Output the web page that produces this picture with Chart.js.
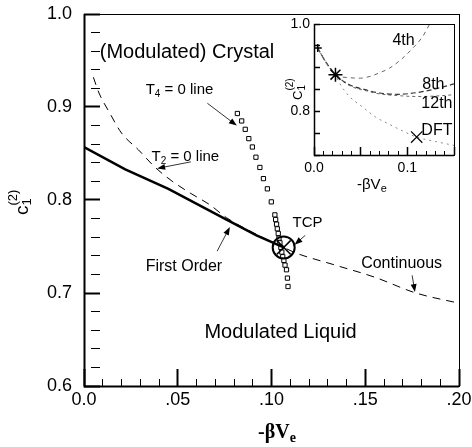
<!DOCTYPE html>
<html>
<head>
<meta charset="utf-8">
<script src="https://cdn.jsdelivr.net/npm/chart.js@4.4.0/dist/chart.umd.min.js"></script>
<style>
    body { margin: 0; background: #ffffff; }
    #wrap { position: relative; width: 472px; height: 447px; }
    #mainChart { position: absolute; left: 0; top: 0; }
    #insetChart { position: absolute; left: 250px; top: 8px; }
</style>
</head>
<body>
<div id="wrap">
    <canvas id="mainChart" width="472" height="447"></canvas>
    <canvas id="insetChart" width="215" height="190"></canvas>
</div>
<script>
// ---- main panel data ----
const firstOrderX = [0.0, 0.022, 0.045, 0.076, 0.092, 0.1065];
const firstOrderY = [0.857, 0.833, 0.812, 0.779, 0.762, 0.749];

const t2LineX = [0.005, 0.008, 0.0136, 0.020, 0.029, 0.038, 0.0465, 0.057, 0.067, 0.076, 0.092, 0.1065, 0.113, 0.134, 0.155, 0.177, 0.200];
const t2LineY = [0.932, 0.915, 0.894, 0.872, 0.854, 0.835, 0.821, 0.807, 0.795, 0.781, 0.763, 0.749, 0.743, 0.730, 0.717, 0.700, 0.689];

const t4LineX = [0.0818, 0.0841, 0.0860, 0.0879, 0.0898, 0.0917, 0.0938, 0.0957, 0.0978, 0.0999, 0.1018, 0.1022, 0.1027, 0.1031, 0.1036, 0.1040, 0.1045, 0.1050, 0.1055, 0.1060, 0.1066, 0.1072, 0.1080, 0.1085, 0.1088];
const t4LineY = [0.893, 0.885, 0.876, 0.866, 0.857, 0.846, 0.835, 0.823, 0.812, 0.798, 0.784, 0.779, 0.774, 0.769, 0.764, 0.759, 0.754, 0.749, 0.744, 0.739, 0.735, 0.730, 0.725, 0.716, 0.707];

const tcpX = [0.1065];
const tcpY = [0.749];

const mainXTicks = ['0.0', '.05', '.10', '.15', '.20'];
const mainYTicks = ['0.6', '0.7', '0.8', '0.9', '1.0'];

// ---- inset data ----
const order4X = [0.004, 0.012, 0.023, 0.038, 0.050, 0.060, 0.070, 0.081, 0.094, 0.106, 0.116, 0.124];
const order4Y = [0.945, 0.915, 0.884, 0.877, 0.876, 0.880, 0.888, 0.899, 0.920, 0.945, 0.970, 1.000];

const order8X = [0.004, 0.012, 0.023, 0.038, 0.056, 0.070, 0.090, 0.116, 0.147, 0.150];
const order8Y = [0.945, 0.915, 0.884, 0.861, 0.849, 0.842, 0.839, 0.845, 0.861, 0.863];

const order12X = [0.004, 0.012, 0.023, 0.038, 0.056, 0.070, 0.090, 0.110, 0.130, 0.150];
const order12Y = [0.945, 0.915, 0.884, 0.859, 0.847, 0.840, 0.836, 0.834, 0.835, 0.838];

const dftX = [0.004, 0.012, 0.023, 0.027, 0.038, 0.052, 0.066, 0.081, 0.095, 0.110, 0.130, 0.150];
const dftY = [0.945, 0.915, 0.884, 0.866, 0.834, 0.810, 0.787, 0.770, 0.755, 0.741, 0.731, 0.722];

const starX = [0.023], starY = [0.884];
const dftMarkX = [0.110], dftMarkY = [0.741];
const startX = [0.004], startY = [0.945];

const SANS = '"Liberation Sans", Arial, sans-serif';
const SERIF = '"Liberation Serif", "Times New Roman", serif';

function pts(xs, ys) {
    return xs.map(function (x, i) { return { x: x, y: ys[i] }; });
}

function isMultiple(v, step) {
    const q = v / step;
    return Math.abs(q - Math.round(q)) < 1e-6;
}

// inward tick marks drawn by Chart.js itself: negative tickLength,
// minor ticks shortened with a dash pattern
function inwardGrid(majorStep, majorLen, minorLen, majorWidth) {
    return {
        display: true,
        drawOnChartArea: false,
        drawTicks: true,
        tickLength: -majorLen,
        tickColor: '#000',
        tickWidth: function (c) {
            return c.tick && isMultiple(c.tick.value, majorStep) ? majorWidth : 1;
        },
        tickBorderDash: function (c) {
            return c.tick && isMultiple(c.tick.value, majorStep) ? [] : [minorLen, 60];
        }
    };
}

// text made of pieces: [text, size, dy, stay]
function drawParts(ctx, parts, x, y, family, weight) {
    parts.forEach(function (p) {
        ctx.font = weight + ' ' + p[1] + 'px ' + family;
        ctx.fillText(p[0], x, y + p[2]);
        if (!p[3]) x += ctx.measureText(p[0]).width;
    });
}

function arrow(ctx, x1, y1, x2, y2) {
    const ang = Math.atan2(y2 - y1, x2 - x1);
    ctx.beginPath();
    ctx.moveTo(x1, y1);
    ctx.lineTo(x2 - 6 * Math.cos(ang), y2 - 6 * Math.sin(ang));
    ctx.stroke();
    ctx.beginPath();
    ctx.moveTo(x2, y2);
    ctx.lineTo(x2 - 8 * Math.cos(ang) + 3 * Math.sin(ang), y2 - 8 * Math.sin(ang) - 3 * Math.cos(ang));
    ctx.lineTo(x2 - 8 * Math.cos(ang) - 3 * Math.sin(ang), y2 - 8 * Math.sin(ang) + 3 * Math.cos(ang));
    ctx.closePath();
    ctx.fill();
}

// frame, labels and arrows
function decor(o) {
    return {
        id: 'decor',
        afterDraw(chart) {
            const ctx = chart.ctx, a = chart.chartArea;
            const sx = chart.scales.x, sy = chart.scales.y;
            ctx.save();
            ctx.setLineDash([]);
            ctx.strokeStyle = '#000000';
            ctx.fillStyle = '#000000';
            ctx.lineWidth = 1;
            ctx.strokeRect(a.left + 0.5, a.top + 0.5, a.right - a.left, a.bottom - a.top);
            ctx.lineWidth = o.axisWidth;
            ctx.beginPath();
            ctx.moveTo(a.left + 0.5, a.top);
            ctx.lineTo(a.left + 0.5, a.bottom + 0.5);
            ctx.lineTo(a.right, a.bottom + 0.5);
            ctx.stroke();

            ctx.lineWidth = 0.8;
            ctx.textBaseline = 'middle';
            ctx.textAlign = 'left';
            (o.texts || []).forEach(function (n) {
                drawParts(ctx, n.parts, sx.getPixelForValue(n.x), sy.getPixelForValue(n.y), SANS, 'normal');
            });
            (o.arrows || []).forEach(function (r) {
                arrow(ctx, sx.getPixelForValue(r[0]), sy.getPixelForValue(r[1]),
                    sx.getPixelForValue(r[2]), sy.getPixelForValue(r[3]));
            });
            ctx.textBaseline = 'alphabetic';
            (o.titles || []).forEach(function (tt) {
                ctx.save();
                ctx.translate(tt.x, tt.y);
                if (tt.rotate) ctx.rotate(-Math.PI / 2);
                drawParts(ctx, tt.parts, 0, 0, tt.family, tt.weight);
                ctx.restore();
            });
            ctx.restore();
        }
    };
}

function mainChart() {
    const ctx = document.getElementById('mainChart').getContext('2d');
    new Chart(ctx, {
        type: 'scatter',
        data: {
            datasets: [
                { data: pts(tcpX, tcpY), pointStyle: 'circle', pointRadius: 11, borderColor: '#000', borderWidth: 2, backgroundColor: 'rgba(0,0,0,0)' },
                { data: pts(tcpX, tcpY), pointStyle: 'crossRot', pointRadius: 10, borderColor: '#000', borderWidth: 1.5 },
                { data: pts(firstOrderX, firstOrderY), showLine: true, pointRadius: 0, borderColor: '#000', borderWidth: 2.5 },
                { data: pts(t4LineX, t4LineY), pointStyle: 'rect', pointRadius: 3, borderColor: '#000', borderWidth: 1, backgroundColor: '#fff' },
                { data: pts(t2LineX, t2LineY), showLine: true, pointRadius: 0, borderColor: '#000', borderWidth: 1, borderDash: [8, 6], cubicInterpolationMode: 'monotone' },
            ]
        },
        options: {
            responsive: false,
            animation: false,
            devicePixelRatio: 1,
            layout: { padding: { top: 14, right: 5, left: 0, bottom: 0 } },
            plugins: {
                legend: { display: false },
                tooltip: { enabled: false }
            },
            scales: {
                x: {
                    type: 'linear',
                    min: 0,
                    max: 0.2,
                    border: { display: false },
                    grid: inwardGrid(0.05, 17, 7, 2),
                    afterFit: function (s) { s.height = 61; s.paddingLeft = 0; s.paddingRight = 0; },
                    ticks: {
                        stepSize: 0.01,
                        autoSkip: false,
                        maxRotation: 0,
                        padding: 20,
                        color: '#000',
                        font: { family: SANS, size: 18 },
                        callback: function (v) {
                            return isMultiple(v, 0.05) ? mainXTicks[Math.round(v / 0.05)] : '';
                        }
                    }
                },
                y: {
                    type: 'linear',
                    min: 0.6,
                    max: 1.0,
                    border: { display: false },
                    grid: inwardGrid(0.1, 16, 9, 2),
                    afterFit: function (s) { s.width = 84; s.paddingTop = 0; s.paddingBottom = 0; },
                    ticks: {
                        stepSize: 0.02,
                        autoSkip: false,
                        padding: 28,
                        color: '#000',
                        font: { family: SANS, size: 18 },
                        callback: function (v) {
                            return isMultiple(v, 0.1) ? mainYTicks[Math.round((v - 0.6) / 0.1)] : '';
                        }
                    }
                }
            }
        },
        plugins: [
            decor({
                axisWidth: 2,
                texts: [
                    { parts: [['(Modulated) Crystal', 20, 0]], x: 0.0084, y: 0.959 },
                    { parts: [['T', 15, 0], ['4', 10, 4], [' = 0 line', 15, 0]], x: 0.0329, y: 0.918 },
                    { parts: [['T', 15, 0], ['2', 10, 4], [' = 0 line', 15, 0]], x: 0.036, y: 0.846 },
                    { parts: [['First Order', 16, 0]], x: 0.0329, y: 0.728 },
                    { parts: [['TCP', 15, 0]], x: 0.1112, y: 0.775 },
                    { parts: [['Continuous', 16, 0]], x: 0.1478, y: 0.732 },
                    { parts: [['Modulated Liquid', 20, 0]], x: 0.0642, y: 0.658 },
                ],
                arrows: [
                    [0.0658, 0.904, 0.0815, 0.880],
                    [0.0570, 0.841, 0.0390, 0.834],
                    [0.0710, 0.745, 0.0778, 0.771],
                    [0.1180, 0.762, 0.1123, 0.752],
                    [0.1750, 0.719, 0.1765, 0.701],
                ],
                titles: [
                    { x: 28, y: 215, rotate: true, family: SANS, weight: 'normal', parts: [['c', 19, 0], ['(2)', 13, -11, true], ['1', 13, 3]] },
                    { x: 258, y: 438, rotate: false, family: SERIF, weight: 'bold', parts: [['-βV', 20, 0], ['e', 14, 4]] },
                ]
            })
        ]
    });
}

function insetChart() {
    const ctx = document.getElementById('insetChart').getContext('2d');
    new Chart(ctx, {
        type: 'scatter',
        data: {
            datasets: [
                { data: pts(starX, starY), pointStyle: 'star', pointRadius: 7, borderColor: '#000', borderWidth: 1.5 },
                { data: pts(dftMarkX, dftMarkY), pointStyle: 'crossRot', pointRadius: 8, borderColor: '#000', borderWidth: 1.2 },
                { data: pts(startX, startY), pointStyle: 'cross', pointRadius: 4, borderColor: '#000', borderWidth: 1.5 },
                { data: pts(order4X, order4Y), showLine: true, pointRadius: 0, borderColor: '#666', borderWidth: 1, borderDash: [4, 4], cubicInterpolationMode: 'monotone' },
                { data: pts(order8X, order8Y), showLine: true, pointRadius: 0, borderColor: '#333', borderWidth: 1.2, borderDash: [5, 3], cubicInterpolationMode: 'monotone' },
                { data: pts(order12X, order12Y), showLine: true, pointRadius: 0, borderColor: '#666', borderWidth: 1, borderDash: [3, 3], cubicInterpolationMode: 'monotone' },
                { data: pts(dftX, dftY), showLine: true, pointRadius: 0, borderColor: '#888', borderWidth: 1, borderDash: [2, 4], cubicInterpolationMode: 'monotone' },
            ]
        },
        options: {
            responsive: false,
            animation: false,
            devicePixelRatio: 1,
            layout: { padding: { top: 16, right: 11, left: 0, bottom: 0 } },
            plugins: {
                legend: { display: false },
                tooltip: { enabled: false }
            },
            scales: {
                x: {
                    type: 'linear',
                    min: 0,
                    max: 0.15,
                    border: { display: false },
                    grid: inwardGrid(0.05, 8, 4, 1.5),
                    afterFit: function (s) { s.height = 43; s.paddingLeft = 0; s.paddingRight = 0; },
                    ticks: {
                        stepSize: 0.01,
                        autoSkip: false,
                        maxRotation: 0,
                        padding: 13,
                        color: '#000',
                        font: { family: SANS, size: 14 },
                        callback: function (v) {
                            return isMultiple(v, 0.1) ? v.toFixed(1) : '';
                        }
                    }
                },
                y: {
                    type: 'linear',
                    min: 0.7,
                    max: 1.0,
                    border: { display: false },
                    grid: inwardGrid(0.05, 6, 6, 1.5),
                    afterFit: function (s) { s.width = 64; s.paddingTop = 0; s.paddingBottom = 0; },
                    ticks: {
                        stepSize: 0.05,
                        autoSkip: false,
                        padding: 10,
                        color: '#000',
                        font: { family: SANS, size: 14 },
                        callback: function (v) {
                            return isMultiple(v, 0.2) ? v.toFixed(1) : '';
                        }
                    }
                }
            }
        },
        plugins: [
            decor({
                axisWidth: 1.5,
                texts: [
                    { parts: [['4th', 16, 0]], x: 0.084, y: 0.961 },
                    { parts: [['8th', 16, 0]], x: 0.116, y: 0.861 },
                    { parts: [['12th', 16, 0]], x: 0.115, y: 0.818 },
                    { parts: [['DFT', 16, 0]], x: 0.115, y: 0.757 },
                ],
                titles: [
                    { x: 52, y: 92, rotate: true, family: SANS, weight: 'normal', parts: [['C', 13, 0], ['(2)', 10, -9, true], ['1', 10, 3]] },
                    { x: 107, y: 181, rotate: false, family: SANS, weight: 'normal', parts: [['-βV', 15, 0], ['e', 11, 3]] },
                ]
            })
        ]
    });
}

mainChart();
insetChart();
</script>
</body>
</html>
